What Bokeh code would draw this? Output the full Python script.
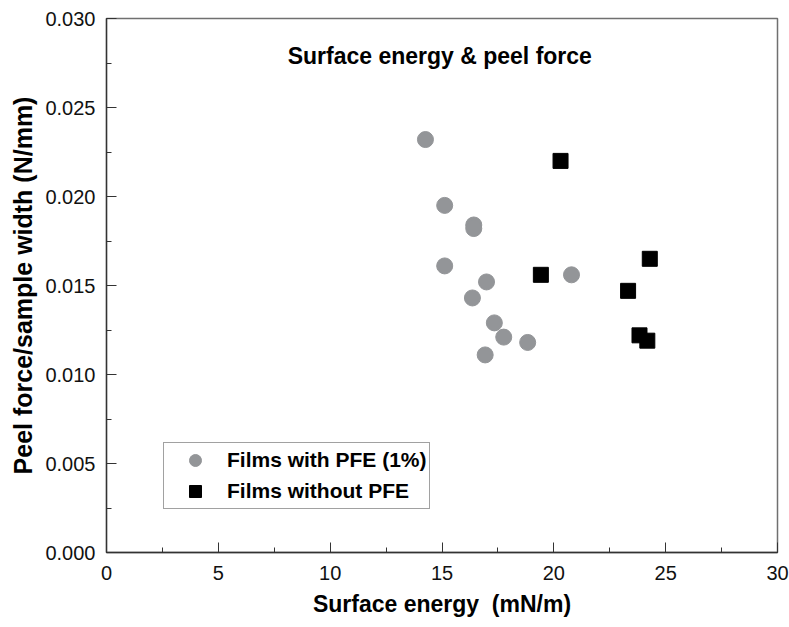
from bokeh.plotting import figure
from bokeh.models import SingleIntervalTicker, NumeralTickFormatter, Legend, LegendItem, Label, ColumnDataSource
from bokeh.embed import file_html
from bokeh.resources import INLINE

# Data
pfe_energy = [14.26, 15.12, 16.42, 16.42, 15.12, 16.99, 16.36, 17.34, 17.76, 18.83, 16.93, 20.79]
pfe_peel = [0.0232, 0.0195, 0.0184, 0.0182, 0.0161, 0.0152, 0.0143, 0.0129, 0.0121, 0.0118, 0.0111, 0.0156]

nopfe_energy = [20.30, 19.42, 24.29, 23.32, 23.83, 24.18]
nopfe_peel = [0.0220, 0.0156, 0.0165, 0.0147, 0.0122, 0.0119]

title_text = "Surface energy & peel force"
x_label = "Surface energy\u00a0 (mN/m)"
y_label = "Peel force/sample width (N/mm)"
series_names = ["Films with PFE (1%)", "Films without PFE"]

FONT = "Liberation Sans"

p = figure(width=789, height=627, x_range=(0, 30), y_range=(0, 0.030),
           output_backend="svg", toolbar_location=None,
           min_border_left=106, min_border_right=12, min_border_top=18, min_border_bottom=75)

p.background_fill_color = "white"
p.border_fill_color = "white"
p.xgrid.visible = False
p.ygrid.visible = False
p.outline_line_color = "#707070"
p.outline_line_width = 1.5

for ax, interval in ((p.xaxis[0], 5), (p.yaxis[0], 0.005)):
    ax.ticker = SingleIntervalTicker(interval=interval, num_minor_ticks=2)
    ax.major_tick_in = 10
    ax.major_tick_out = 0
    ax.minor_tick_in = 5
    ax.minor_tick_out = 0
    ax.axis_line_color = "#333333"
    ax.axis_line_width = 1.3
    ax.major_tick_line_color = "#333333"
    ax.minor_tick_line_color = "#333333"
    ax.major_label_text_font = FONT
    ax.major_label_text_font_size = "20px"
    ax.major_label_text_color = "#111111"
    ax.axis_label_text_font = FONT
    ax.axis_label_text_font_style = "bold"
    ax.axis_label_text_color = "#000000"

p.yaxis[0].formatter = NumeralTickFormatter(format="0.000")
p.xaxis[0].major_label_standoff = 13
p.yaxis[0].major_label_standoff = 11
p.xaxis[0].axis_label_standoff = 8
p.yaxis[0].axis_label_standoff = 5
p.xaxis[0].axis_label = x_label
p.yaxis[0].axis_label = y_label
p.xaxis[0].axis_label_text_font_size = "23px"
p.yaxis[0].axis_label_text_font_size = "25px"

src_pfe = ColumnDataSource(dict(x=pfe_energy, y=pfe_peel))
src_no = ColumnDataSource(dict(x=nopfe_energy, y=nopfe_peel))

r1 = p.scatter("x", "y", source=src_pfe, marker="circle", size=16,
               fill_color="#939598", line_color="#939598")
r2 = p.scatter("x", "y", source=src_no, marker="square", size=15,
               fill_color="#000000", line_color="#000000")

legend = Legend(items=[LegendItem(label=series_names[0], renderers=[r1]),
                       LegendItem(label=series_names[1], renderers=[r2])],
                location=(57, 43), orientation="vertical",
                padding=2, margin=0, spacing=1,
                glyph_width=58, glyph_height=30, label_height=30,
                label_standoff=3,
                label_text_font=FONT, label_text_font_size="21px",
                label_text_font_style="bold", label_text_color="#000000",
                border_line_color="#444444", border_line_width=1.2,
                background_fill_color="white", background_fill_alpha=1.0)
p.add_layout(legend, "center")

title = Label(x=14.9, y=0.02787, text=title_text, text_align="center", text_baseline="middle",
              text_font=FONT, text_font_size="23px", text_font_style="bold", text_color="#000000")
p.add_layout(title)

open("out.html", "w").write(file_html(p, INLINE))
